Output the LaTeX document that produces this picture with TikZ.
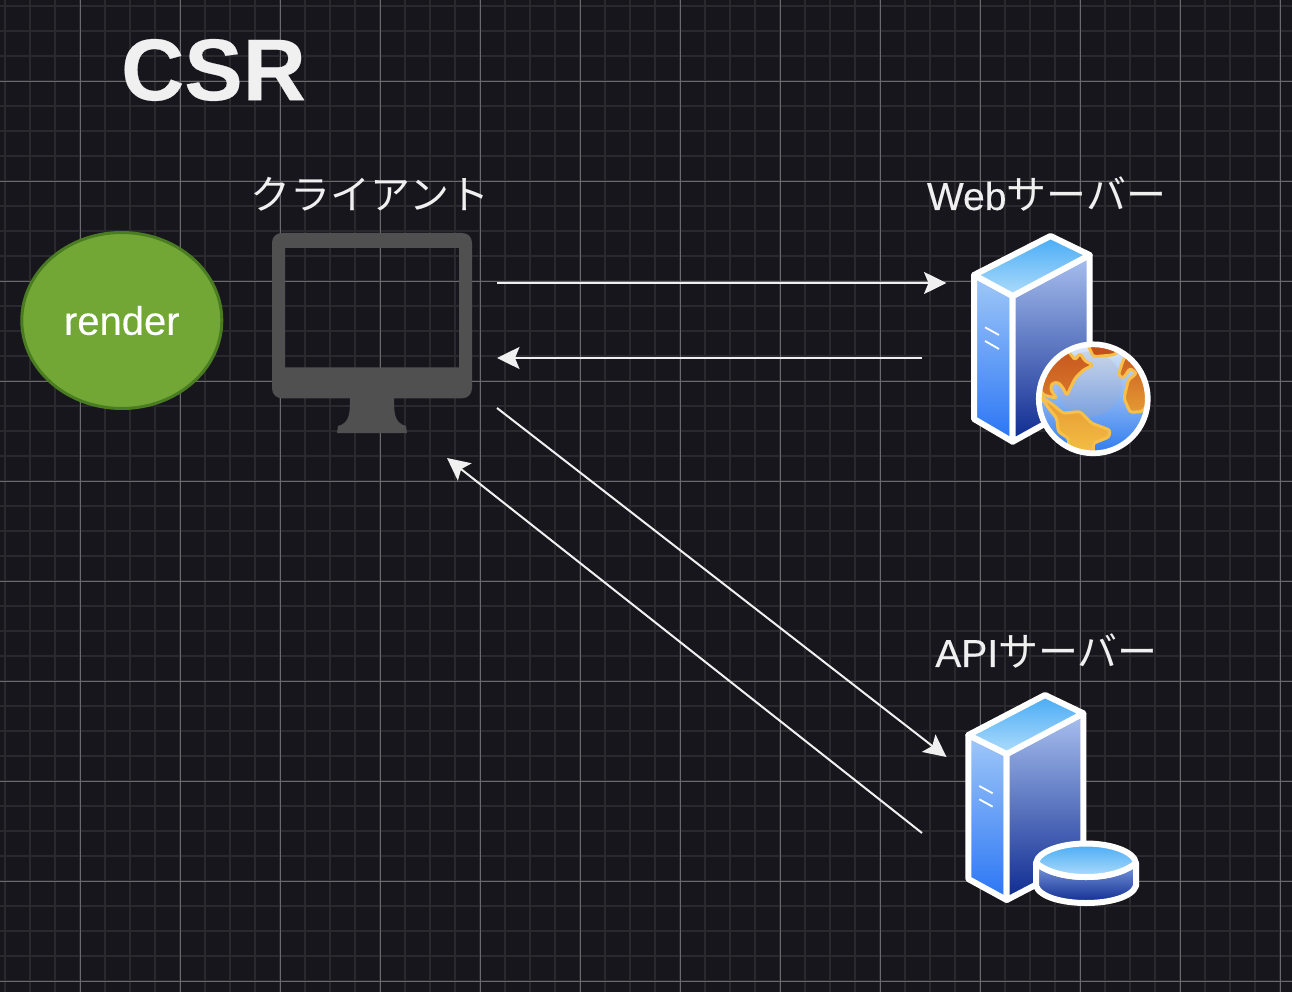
\documentclass[tikz,border=0pt]{standalone}
\usepackage{fontspec}
\setmainfont{Liberation Sans}
\newfontfamily\cjk{Noto Sans CJK JP}
\usetikzlibrary{arrows.meta,shapes.geometric}
\definecolor{bgc}{HTML}{18161D}
\definecolor{gridminor}{HTML}{2A292E}
\definecolor{gridmajor}{HTML}{6A696D}
\definecolor{txt}{HTML}{F0F0F0}
\definecolor{mon}{HTML}{505050}
\definecolor{land}{HTML}{F8C04B}
\definecolor{renderedge}{HTML}{4A7C22}
\definecolor{renderfill}{HTML}{72A736}
\definecolor{srvlt}{HTML}{A0C8F8}
\definecolor{srvlb}{HTML}{2A75F5}
\definecolor{srvrt}{HTML}{A8C0EF}
\definecolor{srvrb}{HTML}{0E2A90}
\definecolor{srvtt}{HTML}{48ABF5}
\definecolor{srvtb}{HTML}{AEDCFB}
\definecolor{diskt}{HTML}{7E9CE0}
\definecolor{globetop}{HTML}{DFEAFA}
\definecolor{globemid}{HTML}{8DB6FA}
\definecolor{globebot}{HTML}{2E7BEE}
\definecolor{hlt}{HTML}{C8D4E8}
\definecolor{hlb}{HTML}{7BA1E0}
\definecolor{landa}{HTML}{C4501C}
\definecolor{landb}{HTML}{D8782A}
\definecolor{landc}{HTML}{E59A33}
\definecolor{landd}{HTML}{F5C144}
\newcommand{\jp}[1]{{\cjk\fontsize{40}{40}\selectfont #1}}
\tikzset{
  label text/.style={text=txt,font=\fontsize{39}{39}\selectfont\addfontfeature{FakeBold=0.25},inner sep=0pt},
  flow/.style={draw=txt,line width=2pt,-{Stealth[length=22.5pt,width=22pt,inset=4.5pt]}},
  srv/.style={draw=white,line width=6pt,line join=round},
  leftface/.style={srv,top color=srvlt,bottom color=srvlb},
  rightface/.style={srv,top color=srvrt,bottom color=srvrb},
  topface/.style={srv,top color=srvtt,bottom color=srvtb},
  tick/.style={draw=white,line width=1.8pt},
  landmass/.style={draw=land,line width=3pt,line join=round,rounded corners=2.5pt}
}
\begin{document}
\begin{tikzpicture}[x=1pt,y=-1pt]
\useasboundingbox (0,0) rectangle (1292,992);
\fill[bgc] (0,0) rectangle (1292,992);
% grid
\foreach \g in {0,...,51} {\draw[gridminor,line width=2pt] ({5.3+25*\g},0) -- ({5.3+25*\g},992);}
\foreach \g in {0,...,39} {\draw[gridminor,line width=2pt] (0,{6+25*\g}) -- (1292,{6+25*\g});}
\foreach \g in {0,...,12} {\draw[gridmajor,line width=1pt] ({80.5+100*\g},0) -- ({80.5+100*\g},992);}
\foreach \g in {0,...,9} {\draw[gridmajor,line width=1pt] (0,{81.5+100*\g}) -- (1292,{81.5+100*\g});}
% title and labels
\node[text=txt,font=\fontsize{87.5}{88}\selectfont\bfseries\addfontfeature{FakeBold=0.3},inner sep=0pt] (title) at (213.5,70) {CSR};
\node[label text] (clientlabel) at (370,194.5) {\jp{クライアント}};
\node[label text] (weblabel) at (1046.5,194.5) {Web\jp{サーバー}};
\node[label text] (apilabel) at (1046.5,651.5) {API\jp{サーバー}};
% render
\node[draw=renderedge,fill=renderfill,line width=3pt,ellipse,minimum width=200pt,minimum height=176pt,inner sep=0pt,text=white,font=\fontsize{40}{40}\selectfont\addfontfeature{FakeBold=0.25}] (render) at (121.8,320.5) {render};
% monitor
\fill[mon,even odd rule] (282,233) -- (462,233) .. controls (468,233) and (472,237) .. (472,243) -- (472,388) .. controls (472,394) and (468,398.3) .. (462,398.3)
  -- (394,398.3) .. controls (394,412) and (394,423) .. (406,426) -- (407,433) -- (337,433) -- (338,426) .. controls (350,423) and (350,412) .. (350,398.3)
  -- (282,398.3) .. controls (276,398.3) and (272,394) .. (272,388) -- (272,243) .. controls (272,237) and (276,233) .. (282,233) -- cycle
  (285,248) rectangle (459,367.3);
% web server
\shadedraw[leftface] (974,275) -- (1012.7,296) -- (1012.7,441.7) -- (974,419) -- cycle;
\shadedraw[rightface] (1012.7,296) -- (1089.7,255) -- (1089.7,399) -- (1012.7,441.7) -- cycle;
\shadedraw[topface] (974,275) -- (1050.5,236) -- (1089.7,255) -- (1012.7,296) -- cycle;
\draw[tick] (985,327.3) -- (999,335);
\draw[tick] (985,341) -- (999,349);
% globe
\begin{scope}
\clip (1093.3,398.8) circle[radius=54.5pt];
\shade[top color=globetop,middle color=globemid,bottom color=globebot] (1030,343) rectangle (1155,454);
\shade[top color=hlt,bottom color=hlb] (1089.3,384.3) circle[radius=32.5pt];
\shadedraw[landmass,top color=landa,bottom color=landb] (1070,353.3) -- (1075,360) -- (1080,353.3) -- (1085,361) -- (1093.3,365) -- (1083.3,370) -- (1075,378.3) -- (1066.7,395.7) -- (1063.3,388.3) -- (1058.3,382.3) -- (1051.7,383.3) -- (1050.7,390) -- (1056.7,398.3) -- (1043.3,395) -- (1030,370) -- (1060,340) -- cycle;
\shadedraw[landmass,top color=landa,bottom color=landa] (1088,345) -- (1093.3,356.7) -- (1113,355) -- (1122,350) -- (1118,340) -- (1090,340) -- cycle;
\shadedraw[landmass,top color=landc,bottom color=landd] (1040,396) -- (1053.3,405) -- (1063.3,413.3) -- (1080,411.5) -- (1091.7,423.3) -- (1110,430) -- (1109,437) -- (1093.3,443.3) -- (1093.3,458) -- (1070,458) -- (1068.3,438.3) -- (1058.3,431.7) -- (1056.7,418.3) -- (1050,410) -- cycle;
\shadedraw[landmass,top color=landa,bottom color=landc] (1123.3,360) -- (1118.3,375) -- (1123.3,378.3) -- (1130,368.3) -- (1136.7,373.3) -- (1128.3,380) -- (1124,398.3) -- (1130,412.3) -- (1141.7,411.7) -- (1152,400) -- (1158,370) -- (1133,342) -- cycle;
\end{scope}
\draw[white,line width=5.7pt] (1093.3,398.8) circle[radius=54.5pt];
% api server
\shadedraw[leftface] (968.3,735) -- (1006.7,754) -- (1006.7,900) -- (968.3,879) -- cycle;
\shadedraw[rightface] (1006.7,754) -- (1083.3,713.3) -- (1083.3,860) -- (1006.7,900) -- cycle;
\shadedraw[topface] (968.3,735) -- (1045,695) -- (1083.3,713.3) -- (1006.7,754) -- cycle;
\draw[tick] (979.3,786) -- (992.7,793.3);
\draw[tick] (979.3,799.3) -- (992.7,806.7);
% disk
\shadedraw[srv,top color=diskt,bottom color=srvrb] (1036,863) -- (1036,886) .. controls (1040,897) and (1062,903) .. (1086,903) .. controls (1110,903) and (1132,897) .. (1136,886) -- (1136,863) .. controls (1125,872) and (1107,877) .. (1086,877) .. controls (1065,877) and (1047,872) .. (1036,863) -- cycle;
\shadedraw[topface] (1036,863) .. controls (1038,851) and (1062,843.5) .. (1086,843.5) .. controls (1110,843.5) and (1134,851) .. (1136,863) .. controls (1125,872) and (1107,877) .. (1086,877) .. controls (1065,877) and (1047,872) .. (1036,863) -- cycle;
% connectors
\coordinate (c1) at (497,283); \coordinate (w1) at (946.5,283);
\coordinate (w2) at (922,358); \coordinate (c2) at (497,358);
\coordinate (c3) at (497,408); \coordinate (a1) at (946.5,757);
\coordinate (a2) at (922,833); \coordinate (c4) at (447,458);
\draw[flow] (c1) -- (w1);
\draw[flow] (w2) -- (c2);
\draw[flow] (c3) -- (a1);
\draw[flow] (a2) -- (c4);
\end{tikzpicture}
\end{document}
